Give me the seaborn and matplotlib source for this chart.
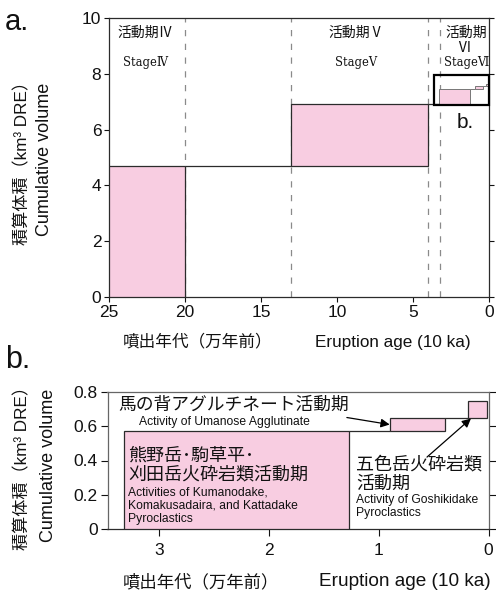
import numpy as np
import pandas as pd
import seaborn as sns
import matplotlib
matplotlib.use("Agg")
import matplotlib.pyplot as plt
from matplotlib.patches import Rectangle

# Eruptive stages (age in 10 ka, volume in km3 DRE)
stage_labels = ["活動期Ⅳ", "活動期Ⅴ", "活動期"]
stage_labels_en = ["StageⅣ", "StageⅤ", "StageⅥ"]
stage_bounds = [20.0, 13.0, 4.0, 3.25]

# Stages IV and V
old_start = [25.0, 13.0]
old_end = [20.0, 4.0]
old_volume = [4.7, 2.2]

# Stage VI activities
vi_labels = ["熊野岳･駒草平･\n刈田岳火砕岩類活動期", "馬の背アグルチネート活動期", "五色岳火砕岩類\n活動期"]
vi_labels_en = ["Activities of Kumanodake,\nKomakusadaira, and Kattadake\nPyroclastics",
                "Activity of Umanose Agglutinate",
                "Activity of Goshikidake\nPyroclastics"]
vi_start = [3.32, 0.90, 0.19]
vi_end = [1.27, 0.40, 0.01]
vi_volume = [0.57, 0.08, 0.10]

a_xticks = [25, 20, 15, 10, 5, 0]
a_yticks = [0, 2, 4, 6, 8, 10]
b_xticks = [3, 2, 1, 0]
b_yticks = [0, 0.2, 0.4, 0.6, 0.8]
b_yticklabels = ["0", "0.2", "0.4", "0.6", "0.8"]

PINK = "#F8CDE1"
EDGE = "#2b2b2b"
LAT = ["Liberation Sans", "Noto Sans CJK JP"]
CJK = ["Noto Sans CJK JP", "Liberation Sans"]

sns.set_theme(style="ticks")
plt.rcParams["font.family"] = LAT
plt.rcParams["axes.edgecolor"] = EDGE
plt.rcParams["axes.linewidth"] = 0.9
plt.rcParams["text.color"] = "#111111"


def episodes(start, end, volume, base0=0.0):
    df = pd.DataFrame({"start": start, "end": end, "volume": volume})
    df["base"] = base0 + df["volume"].cumsum() - df["volume"]
    df["top"] = df["base"] + df["volume"]
    return df


def draw_steps(ax, df, edge=EDGE, lw=0.9):
    ax.bar(df["end"], df["volume"], width=df["start"] - df["end"], bottom=df["base"],
           align="edge", color=PINK, edgecolor=edge, linewidth=lw, zorder=3)
    for i in range(len(df) - 1):
        ax.hlines(df["top"].iloc[i], df["end"].iloc[i], df["start"].iloc[i + 1],
                  color=edge, linewidth=lw, zorder=3)


old = episodes(old_start, old_end, old_volume)
vi_a = episodes(vi_start, vi_end, vi_volume, base0=old["top"].iloc[-1])
vi_b = episodes(vi_start, vi_end, vi_volume)

fig = plt.figure(figsize=(4.96, 5.93), dpi=100)
W, H = 496, 593

# ---------------- panel a ----------------
ax = fig.add_axes([109 / W, 1 - 297 / H, 380 / W, 279 / H])
ax.set_xlim(25, 0)
ax.set_ylim(0, 10)
for xb in stage_bounds:
    ax.axvline(xb, color="#8a8a8a", linewidth=0.9, linestyle=(0, (5, 6)), zorder=1)
draw_steps(ax, old)
ax.hlines(old["top"].iloc[-1], old["end"].iloc[-1], vi_a["start"].iloc[0],
          color=EDGE, linewidth=0.9, zorder=3)
draw_steps(ax, vi_a, edge="#777777", lw=0.7)
ax.add_patch(Rectangle((0, 6.88), 3.6, 1.07, fill=False, edgecolor="black",
                       linewidth=1.6, zorder=4, clip_on=False))
ax.text(1.58, 6.27, "b.", fontsize=15, ha="center", va="center", zorder=5)

ax.set_xticks(a_xticks)
ax.set_xticklabels([str(v) for v in a_xticks])
ax.set_yticks(a_yticks)
ax.set_yticklabels([str(v) for v in a_yticks])
ax.tick_params(axis="both", direction="out", length=3.5, width=0.8, labelsize=12.5,
               colors="#111111", pad=2)
ax.tick_params(axis="y", right=True, labelright=False)
for s in ax.spines.values():
    s.set_linewidth(0.9)

stage_x = [22.6, 8.75, 1.5]
for x, lab, lab_en in zip(stage_x, stage_labels, stage_labels_en):
    ax.text(x, 9.48, lab, fontsize=10, ha="center", va="center", family=CJK)
    ax.text(x, 8.4, lab_en, fontsize=8.3, ha="center", va="center",
            family=["DejaVu Serif", "Noto Sans CJK JP"])
ax.text(1.65, 8.92, "Ⅵ", fontsize=10, ha="center", va="center", family=CJK)

fig.text(198 / W, 1 - 342 / H, "噴出年代（万年前）", fontsize=12, ha="center", va="center",
         family=CJK)
fig.text(393 / W, 1 - 342 / H, "Eruption age (10 ka)", fontsize=12.3, ha="center",
         va="center")
fig.text(22 / W, 1 - 159 / H, "積算体積（km³ DRE）", fontsize=12.3, rotation=90,
         ha="center", va="center", family=LAT)
fig.text(45 / W, 1 - 159 / H, "Cumulative volume", fontsize=13, rotation=90,
         ha="center", va="center")
fig.text(5 / W, 1 - 22 / H, "a.", fontsize=21, ha="left", va="center")

# ---------------- panel b ----------------
bx = fig.add_axes([107.5 / W, 1 - 529 / H, 381 / W, 137 / H])
bx.set_xlim(3.47, 0)
bx.set_ylim(0, 0.8)
draw_steps(bx, vi_b)
bx.set_xticks(b_xticks)
bx.set_xticklabels([str(v) for v in b_xticks])
bx.set_yticks(b_yticks)
bx.set_yticklabels(b_yticklabels)
bx.tick_params(axis="both", direction="out", length=5, width=0.8, labelsize=12.5,
               colors="#111111", pad=2)
bx.tick_params(axis="x", pad=5)
bx.tick_params(axis="y", right=True, labelright=False)
for name, s in bx.spines.items():
    s.set_linewidth(0.9)
    s.set_color("#666666" if name in ("left", "top", "right") else EDGE)

# stage VI activity labels
bx.text(3.374, 0.728, vi_labels[1], fontsize=12.8, ha="left", va="center", family=CJK,
        zorder=5)
bx.text(3.18, 0.624, vi_labels_en[1], fontsize=8.7, ha="left", va="center", zorder=5)
bx.text(3.28, 0.375, vi_labels[0], fontsize=13, ha="left", va="center", family=CJK,
        linespacing=1.05, zorder=5)
bx.text(3.28, 0.135, vi_labels_en[0], fontsize=8.7, ha="left", va="center",
        linespacing=1.12, zorder=5)
bx.text(1.205, 0.32, vi_labels[2], fontsize=13, ha="left", va="center", family=CJK,
        linespacing=1.05, zorder=5)
bx.text(1.205, 0.133, vi_labels_en[2], fontsize=8.7, ha="left", va="center",
        linespacing=1.12, zorder=5)

arrow = dict(arrowstyle="-|>", color="black", lw=0.9, mutation_scale=13,
             shrinkA=0, shrinkB=0)
bx.annotate("", xy=(vi_b["start"].iloc[1], vi_b["base"].iloc[1] + vi_b["volume"].iloc[1] / 2),
            xytext=(1.29, 0.651), arrowprops=arrow, zorder=6)
bx.annotate("", xy=(vi_b["start"].iloc[2] - 0.03, vi_b["base"].iloc[2] - 0.005),
            xytext=(0.56, 0.42), arrowprops=arrow, zorder=6)

fig.text(201 / W, 1 - 582 / H, "噴出年代（万年前）", fontsize=12.5, ha="center",
         va="center", family=CJK)
fig.text(405 / W, 1 - 582 / H, "Eruption age (10 ka)", fontsize=13.7, ha="center",
         va="center")
fig.text(22 / W, 1 - 464 / H, "積算体積（km³ DRE）", fontsize=12.3, rotation=90,
         ha="center", va="center", family=LAT)
fig.text(49 / W, 1 - 465 / H, "Cumulative volume", fontsize=13, rotation=90,
         ha="center", va="center")
fig.text(5 / W, 1 - 360 / H, "b.", fontsize=22, ha="left", va="center")

fig.savefig("out.png", dpi=100, facecolor="white")
